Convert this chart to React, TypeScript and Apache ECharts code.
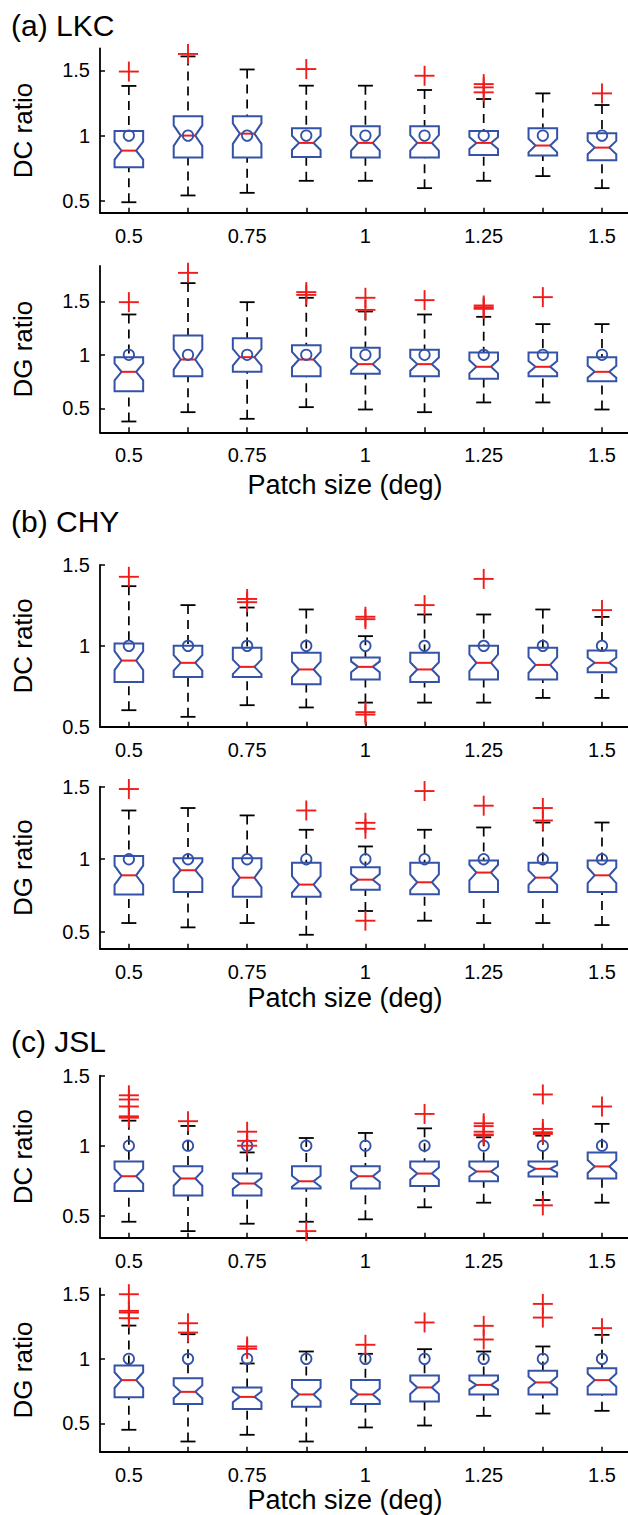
import React, { useEffect, useRef } from "react";
import * as echarts from "echarts";

// ---------- data ----------
const CATS = [0.5, 0.625, 0.75, 0.875, 1, 1.125, 1.25, 1.375, 1.5];
const X_LABELS = [0.5, 0.75, 1, 1.25, 1.5];
const Y_TICKS = [0.5, 1, 1.5];
const REF_VALUE = 1; // blue circle
const SAMPLE_N = 40; // used for the notch width (1.57*IQR/sqrt(n))

// (a) LKC – DC ratio
const lkcDcHi = [1.38, 1.606, 1.506, 1.382, 1.382, 1.349, 1.28, 1.323, 1.234];
const lkcDcQ3 = [1.036, 1.148, 1.148, 1.056, 1.071, 1.071, 1.036, 1.056, 1.018];
const lkcDcMed = [0.885, 1.0, 1.015, 0.944, 0.944, 0.944, 0.944, 0.924, 0.908];
const lkcDcQ1 = [0.758, 0.832, 0.832, 0.837, 0.832, 0.832, 0.852, 0.847, 0.812];
const lkcDcLo = [0.49, 0.542, 0.562, 0.654, 0.654, 0.598, 0.654, 0.69, 0.598];
const lkcDcOut = [[1.49], [1.625], [], [1.509], [], [1.458], [1.394, 1.369, 1.331], [], [1.323]];

// (a) LKC – DG ratio
const lkcDgHi = [1.377, 1.67, 1.492, 1.533, 1.405, 1.377, 1.355, 1.287, 1.287];
const lkcDgQ3 = [0.978, 1.181, 1.156, 1.09, 1.065, 1.047, 1.022, 1.022, 0.978];
const lkcDgMed = [0.841, 0.956, 0.978, 0.956, 0.913, 0.913, 0.888, 0.888, 0.841];
const lkcDgQ1 = [0.66, 0.8, 0.841, 0.8, 0.822, 0.8, 0.776, 0.8, 0.754];
const lkcDgLo = [0.377, 0.464, 0.402, 0.511, 0.489, 0.464, 0.555, 0.555, 0.489];
const lkcDgOut = [[1.492], [1.766], [], [1.586, 1.56], [1.533, 1.42], [1.511], [1.461, 1.445, 1.43], [1.539], []];

// (b) CHY – DC ratio
const chyDcHi = [1.369, 1.252, 1.237, 1.225, 1.06, 1.194, 1.194, 1.225, 1.179];
const chyDcQ3 = [1.014, 1.0, 0.988, 0.957, 0.928, 0.957, 1.0, 0.988, 0.971];
const chyDcMed = [0.909, 0.895, 0.87, 0.854, 0.87, 0.854, 0.895, 0.882, 0.895];
const chyDcQ1 = [0.777, 0.808, 0.808, 0.763, 0.792, 0.777, 0.792, 0.792, 0.837];
const chyDcLo = [0.602, 0.561, 0.633, 0.619, 0.649, 0.649, 0.649, 0.678, 0.678];
const chyDcOut = [[1.427], [], [1.29, 1.27], [], [1.18, 1.165, 0.59, 0.575], [1.252], [1.414], [], [1.221]];

// (b) CHY – DG ratio
const chyDgHi = [1.336, 1.353, 1.302, 1.203, 1.088, 1.203, 1.219, 1.253, 1.253];
const chyDgQ3 = [1.023, 1.007, 1.007, 0.975, 0.945, 0.975, 0.991, 0.975, 0.991];
const chyDgMed = [0.889, 0.924, 0.873, 0.825, 0.859, 0.841, 0.908, 0.873, 0.889];
const chyDgQ1 = [0.756, 0.774, 0.742, 0.742, 0.79, 0.758, 0.774, 0.774, 0.774];
const chyDgLo = [0.56, 0.53, 0.56, 0.479, 0.643, 0.576, 0.56, 0.56, 0.546];
const chyDgOut = [[1.484], [], [], [1.336], [1.251, 1.21, 0.576], [1.47], [1.369], [1.353, 1.267], []];

// (c) JSL – DC ratio
const jslDcHi = [1.179, 1.141, 0.952, 1.055, 1.091, 1.124, 1.06, 1.072, 1.156];
const jslDcQ3 = [0.888, 0.854, 0.801, 0.854, 0.854, 0.888, 0.888, 0.888, 0.952];
const jslDcMed = [0.782, 0.766, 0.73, 0.746, 0.782, 0.801, 0.816, 0.835, 0.852];
const jslDcQ1 = [0.677, 0.644, 0.644, 0.694, 0.694, 0.713, 0.746, 0.78, 0.766];
const jslDcLo = [0.457, 0.39, 0.443, 0.457, 0.474, 0.56, 0.593, 0.612, 0.593];
const jslDcOut = [
  [1.36, 1.33, 1.28, 1.21, 1.2],
  [1.175],
  [1.1, 1.035, 1.0],
  [0.39],
  [],
  [1.227],
  [1.16, 1.14, 1.1, 1.08, 1.075],
  [1.366, 1.12, 1.096, 1.084, 0.574],
  [1.28],
];

// (c) JSL – DG ratio
const jslDgHi = [1.258, 1.191, 0.964, 1.057, 1.039, 1.075, 1.057, 1.096, 1.186];
const jslDgQ3 = [0.948, 0.85, 0.778, 0.835, 0.835, 0.871, 0.871, 0.907, 0.928];
const jslDgMed = [0.835, 0.744, 0.705, 0.724, 0.724, 0.778, 0.798, 0.817, 0.835];
const jslDgQ1 = [0.703, 0.649, 0.612, 0.628, 0.649, 0.669, 0.724, 0.724, 0.724];
const jslDgLo = [0.45, 0.359, 0.411, 0.359, 0.468, 0.483, 0.558, 0.576, 0.597];
const jslDgOut = [[1.501, 1.372, 1.359, 1.315], [1.276, 1.204], [1.096, 1.078], [], [1.109], [1.282], [1.256, 1.15], [1.426, 1.32], [1.238]];

const PANEL_TITLES = ["(a) LKC", "(b) CHY", "(c) JSL"];
const Y_NAMES = ["DC ratio", "DG ratio", "DC ratio", "DG ratio", "DC ratio", "DG ratio"];
const X_NAME = "Patch size (deg)";

// ---------- layout ----------
const FONT = "'Liberation Sans', Arial, Helvetica, sans-serif";
const BLUE = "#3352a8";
const RED = "#f01c1c";
const GRID_LEFT = 100;
const X_MIN = 0.439;
const X_MAX = 1.555;

const PANELS = [
  { top: 48.3, height: 164.4, min: 0.41, max: 1.668, hi: lkcDcHi, q3: lkcDcQ3, med: lkcDcMed, q1: lkcDcQ1, lo: lkcDcLo, out: lkcDcOut },
  { top: 266, height: 166.3, min: 0.276, max: 1.83, hi: lkcDgHi, q3: lkcDgQ3, med: lkcDgMed, q1: lkcDgQ1, lo: lkcDgLo, out: lkcDgOut },
  { top: 565, height: 161.7, min: 0.5, max: 1.5, hi: chyDcHi, q3: chyDcQ3, med: chyDcMed, q1: chyDcQ1, lo: chyDcLo, out: chyDcOut },
  { top: 786.7, height: 162, min: 0.383, max: 1.5, hi: chyDgHi, q3: chyDgQ3, med: chyDgMed, q1: chyDgQ1, lo: chyDgLo, out: chyDgOut },
  { top: 1075.7, height: 162, min: 0.343, max: 1.5, hi: jslDcHi, q3: jslDcQ3, med: jslDcMed, q1: jslDcQ1, lo: jslDcLo, out: jslDcOut },
  { top: 1288.3, height: 163.4, min: 0.28, max: 1.547, hi: jslDgHi, q3: jslDgQ3, med: jslDgMed, q1: jslDgQ1, lo: jslDgLo, out: jslDgOut },
];
const TITLE_Y = [25, 521, 1041];
const X_NAME_Y = [485, 998, 1500];

const BOX_HALF = 14.3;
const NOTCH_HALF = 7.3;
const CAP_HALF = 7.5;
const PLUS_HALF = 10;

function renderBox(params: any, api: any) {
  const x = api.value(0);
  const lo = api.value(1);
  const q1 = api.value(2);
  const med = api.value(3);
  const q3 = api.value(4);
  const hi = api.value(5);
  const notch = (1.57 * (q3 - q1)) / Math.sqrt(SAMPLE_N);
  const pHi = api.coord([x, hi]);
  const xc = pHi[0];
  const yHi = pHi[1];
  const yQ3 = api.coord([x, q3])[1];
  const yMed = api.coord([x, med])[1];
  const yQ1 = api.coord([x, q1])[1];
  const yLo = api.coord([x, lo])[1];
  const yNH = api.coord([x, Math.min(q3, med + notch)])[1];
  const yNL = api.coord([x, Math.max(q1, med - notch)])[1];
  const yRef = api.coord([x, REF_VALUE])[1];
  const dash = { stroke: "#000", lineWidth: 1.7, lineDash: [9, 6] };
  const solid = { stroke: "#000", lineWidth: 1.8 };
  return {
    type: "group",
    children: [
      { type: "line", shape: { x1: xc, y1: yHi, x2: xc, y2: yQ3 }, style: dash },
      { type: "line", shape: { x1: xc, y1: yLo, x2: xc, y2: yQ1 }, style: dash },
      { type: "line", shape: { x1: xc - CAP_HALF, y1: yHi, x2: xc + CAP_HALF, y2: yHi }, style: solid },
      { type: "line", shape: { x1: xc - CAP_HALF, y1: yLo, x2: xc + CAP_HALF, y2: yLo }, style: solid },
      {
        type: "polygon",
        shape: {
          points: [
            [xc - BOX_HALF, yQ3],
            [xc + BOX_HALF, yQ3],
            [xc + BOX_HALF, yNH],
            [xc + NOTCH_HALF, yMed],
            [xc + BOX_HALF, yNL],
            [xc + BOX_HALF, yQ1],
            [xc - BOX_HALF, yQ1],
            [xc - BOX_HALF, yNL],
            [xc - NOTCH_HALF, yMed],
            [xc - BOX_HALF, yNH],
          ],
        },
        style: { stroke: BLUE, fill: "#fff", lineWidth: 2, lineJoin: "miter" },
      },
      { type: "line", shape: { x1: xc - NOTCH_HALF, y1: yMed, x2: xc + NOTCH_HALF, y2: yMed }, style: { stroke: RED, lineWidth: 2 } },
      { type: "circle", shape: { cx: xc, cy: yRef, r: 5.2 }, style: { stroke: BLUE, fill: "none", lineWidth: 1.8 } },
    ],
  };
}

function renderPlus(params: any, api: any) {
  const p = api.coord([api.value(0), api.value(1)]);
  const st = { stroke: RED, lineWidth: 1.9 };
  return {
    type: "group",
    children: [
      { type: "line", shape: { x1: p[0] - PLUS_HALF, y1: p[1], x2: p[0] + PLUS_HALF, y2: p[1] }, style: st },
      { type: "line", shape: { x1: p[0], y1: p[1] - PLUS_HALF, x2: p[0], y2: p[1] + PLUS_HALF }, style: st },
    ],
  };
}

function buildOption() {
  const grid: any[] = [];
  const xAxis: any[] = [];
  const yAxis: any[] = [];
  const series: any[] = [];
  const graphic: any[] = [];
  const axisLineStyle = { color: "#000", width: 1.8 };

  PANELS.forEach((p, i) => {
    grid.push({ left: GRID_LEFT, right: 0, top: p.top, height: p.height });
    xAxis.push({
      type: "value",
      gridIndex: i,
      min: X_MIN,
      max: X_MAX,
      axisLine: { show: true, lineStyle: axisLineStyle },
      axisTick: { show: true, inside: true, length: 5, customValues: CATS, lineStyle: { color: "#000", width: 1.5 } },
      axisLabel: {
        show: true,
        customValues: X_LABELS,
        fontSize: 20,
        fontFamily: FONT,
        color: "#000",
        margin: 13,
        formatter: (v: number) => String(v),
      },
      splitLine: { show: false },
    });
    yAxis.push({
      type: "value",
      gridIndex: i,
      min: p.min,
      max: p.max,
      axisLine: { show: true, lineStyle: axisLineStyle },
      axisTick: { show: true, inside: true, length: 5, customValues: Y_TICKS, lineStyle: { color: "#000", width: 1.5 } },
      axisLabel: {
        show: true,
        customValues: Y_TICKS,
        fontSize: 20,
        fontFamily: FONT,
        color: "#000",
        margin: 10,
        formatter: (v: number) => String(v),
      },
      splitLine: { show: false },
    });
    const boxData = CATS.map((c, k) => [c, p.lo[k], p.q1[k], p.med[k], p.q3[k], p.hi[k]]);
    series.push({
      type: "custom",
      xAxisIndex: i,
      yAxisIndex: i,
      renderItem: renderBox,
      data: boxData,
      encode: { x: 0, y: [1, 2, 3, 4, 5] },
      clip: false,
      silent: true,
    });
    const outData: number[][] = [];
    p.out.forEach((list: number[], k: number) => list.forEach((v) => outData.push([CATS[k], v])));
    series.push({
      type: "custom",
      xAxisIndex: i,
      yAxisIndex: i,
      renderItem: renderPlus,
      data: outData,
      encode: { x: 0, y: 1 },
      clip: false,
      silent: true,
      z: 5,
    });
    graphic.push({
      type: "text",
      x: 23,
      y: p.top + p.height / 2,
      rotation: Math.PI / 2,
      style: { text: Y_NAMES[i], font: `26px ${FONT}`, fill: "#000", textAlign: "center", textVerticalAlign: "middle" },
    });
  });

  PANEL_TITLES.forEach((t, j) => {
    graphic.push({
      type: "text",
      x: 11,
      y: TITLE_Y[j],
      style: { text: t, font: `30px ${FONT}`, fill: "#000", textAlign: "left", textVerticalAlign: "middle" },
    });
    graphic.push({
      type: "text",
      x: 345,
      y: X_NAME_Y[j],
      style: { text: X_NAME, font: `27px ${FONT}`, fill: "#000", textAlign: "center", textVerticalAlign: "middle" },
    });
  });

  return { animation: false, backgroundColor: "#fff", grid, xAxis, yAxis, series, graphic };
}

export default function App() {
  const ref = useRef<HTMLDivElement>(null);
  useEffect(() => {
    if (!ref.current) return;
    const chart = echarts.init(ref.current, undefined, { renderer: "svg" });
    chart.setOption(buildOption() as any);
    return () => chart.dispose();
  }, []);
  return <div ref={ref} style={{ position: "absolute", left: 0, top: 0, width: 628, height: 1515, background: "#fff" }} />;
}
